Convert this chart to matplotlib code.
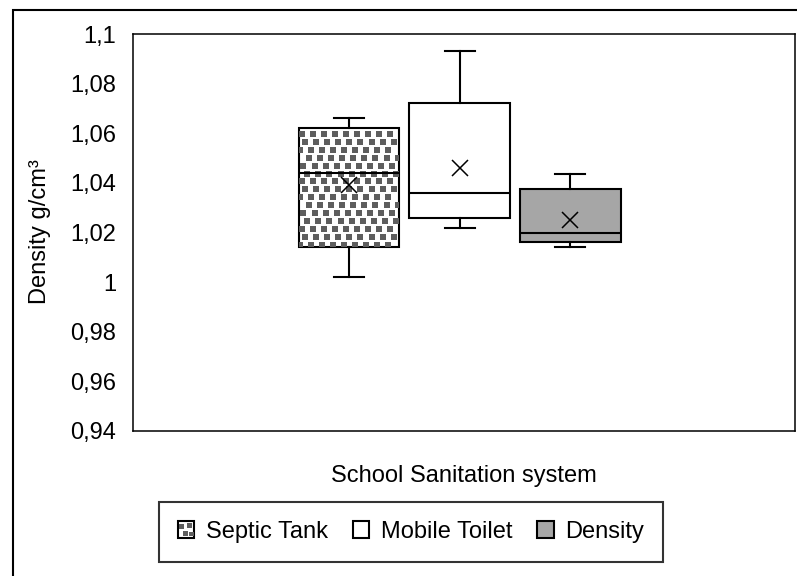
import numpy as np
import matplotlib
matplotlib.use("Agg")
import matplotlib.pyplot as plt
from matplotlib.patches import Rectangle, Patch
from matplotlib.legend_handler import HandlerBase

plt.rcParams["font.family"] = ["Liberation Sans", "DejaVu Sans"]

# Box statistics per sanitation system (g/cm3)
systems = ["Septic Tank", "Mobile Toilet", "Density"]
whis_low = [1.002, 1.022, 1.014]
q1 = [1.014, 1.026, 1.016]
median = [1.044, 1.036, 1.020]
mean = [1.039, 1.046, 1.025]
q3 = [1.062, 1.072, 1.0375]
whis_high = [1.066, 1.093, 1.0435]

y_ticks = [0.94, 0.96, 0.98, 1.0, 1.02, 1.04, 1.06, 1.08, 1.1]
y_tick_labels = ["0,94", "0,96", "0,98", "1", "1,02", "1,04", "1,06", "1,08", "1,1"]

FS = 17
DOT_GRAY = "#5e5e5e"
FILL_GRAY = "#a6a6a6"


class DottedHandler(HandlerBase):
    """Legend key: white square with a few grey squares, like the box fill."""
    def create_artists(self, legend, orig_handle, xdescent, ydescent,
                       width, height, fontsize, trans):
        arts = [Rectangle((-xdescent, -ydescent), width, height,
                          facecolor="white", edgecolor="black", lw=1.5,
                          transform=trans)]
        s = width / 3.5
        for fx, fy in [(0.1, 0.55), (0.6, 0.62), (0.35, 0.12), (0.72, 0.1)]:
            arts.append(Rectangle((-xdescent + fx * width, -ydescent + fy * height),
                                  s, s, facecolor=DOT_GRAY, edgecolor="none",
                                  transform=trans))
        return arts


fig = plt.figure(figsize=(7.97, 5.76), dpi=100)
ax = fig.add_axes([133 / 797, 1 - 431 / 576, 662 / 797, 397 / 576])

positions = [1, 2, 3]
stats = []
for i, name in enumerate(systems):
    stats.append(dict(label=name, whislo=whis_low[i], q1=q1[i], med=median[i],
                      mean=mean[i], q3=q3[i], whishi=whis_high[i], fliers=[]))

bp = ax.bxp(stats, positions=positions, widths=0.91, capwidths=0.27,
            patch_artist=True, showmeans=True, showfliers=False,
            boxprops=dict(edgecolor="black", linewidth=1.5),
            whiskerprops=dict(color="black", linewidth=1.5),
            capprops=dict(color="black", linewidth=1.5),
            medianprops=dict(color="black", linewidth=1.5),
            meanprops=dict(marker="x", markeredgecolor="black",
                           markersize=12, markeredgewidth=1.1))

fills = ["white", "white", FILL_GRAY]
for box, fc in zip(bp["boxes"], fills):
    box.set_facecolor(fc)

# grey square pattern inside the septic tank box, rows staggered
box0 = bp["boxes"][0]
left, right = positions[0] - 0.455, positions[0] + 0.455
dx, dy = 0.1, 0.0032
shifts = [0.0, 0.5, 0.2, 0.7, 0.35, 0.85]
xs, ys = [], []
for r, yy in enumerate(np.arange(q1[0] + dy * 0.3, q3[0], dy)):
    off = shifts[r % len(shifts)] * dx
    for xx in np.arange(left + off + 0.01, right, dx):
        xs.append(xx)
        ys.append(yy)
ax.scatter(xs, ys, marker="s", s=14, color=DOT_GRAY, linewidths=0,
           clip_path=box0, zorder=2.5)
for key in ["medians", "means", "whiskers", "caps"]:
    for art in bp[key]:
        art.set_zorder(3)
box0.set_zorder(2)

ax.set_xlim(-0.95, 5.03)
ax.set_ylim(0.94, 1.1)
ax.set_yticks(y_ticks)
ax.set_yticklabels(y_tick_labels, fontsize=FS)
ax.tick_params(axis="y", length=0, pad=12)
ax.set_xticks([])
for sp in ax.spines.values():
    sp.set_linewidth(1.1)
    sp.set_color("black")

fig.text(40 / 797, 1 - 232 / 576, "Density g/cm³", rotation=90,
         ha="center", va="center", fontsize=FS)
fig.text(464 / 797, 1 - 476 / 576, "School Sanitation system",
         ha="center", va="center", fontsize=FS)

handles = [Patch(facecolor="white", edgecolor="black"),
           Patch(facecolor="white", edgecolor="black", lw=1.5),
           Patch(facecolor=FILL_GRAY, edgecolor="black", lw=1.5)]
leg = fig.legend(handles, systems, loc="center", ncol=3,
                 bbox_to_anchor=(411 / 797, 1 - 532 / 576),
                 bbox_transform=fig.transFigure, fontsize=FS,
                 frameon=True, fancybox=False, edgecolor="black",
                 borderpad=0.8, handlelength=0.7, handleheight=0.7,
                 handletextpad=0.5, columnspacing=1.05,
                 handler_map={handles[0]: DottedHandler()})
leg.get_frame().set_linewidth(1.5)

# outer chart frame
fig.add_artist(Rectangle((13 / 797, -0.1), 1.2, 1.1 - 10 / 576,
                         transform=fig.transFigure, fill=False,
                         edgecolor="black", linewidth=1.5))

fig.savefig("out.png", dpi=100)
